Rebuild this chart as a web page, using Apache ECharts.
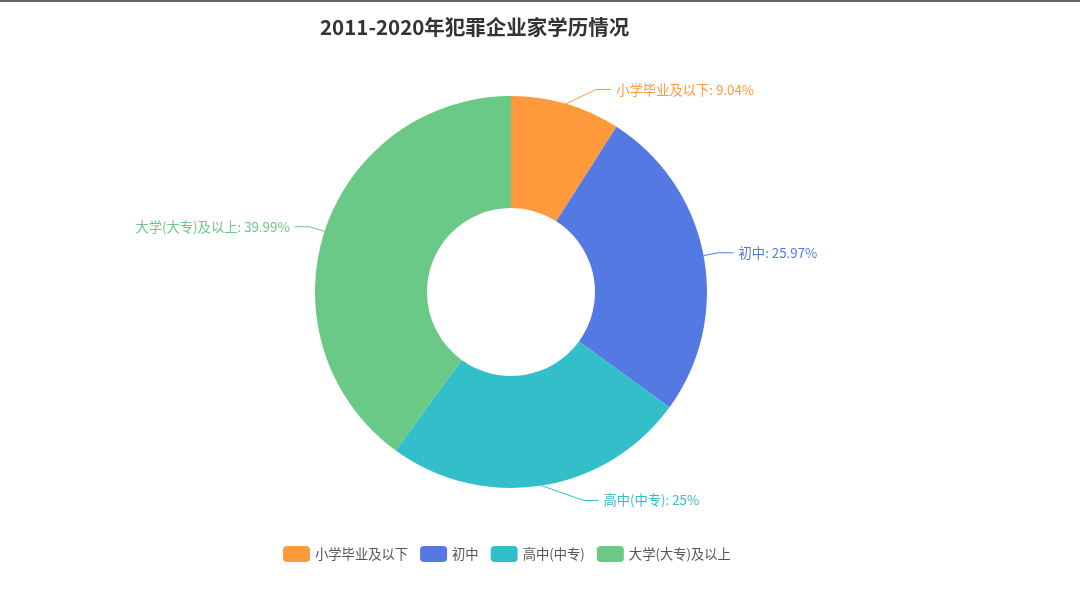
<!DOCTYPE html>
<html>
<head>
<meta charset="utf-8">
<script src="https://cdn.jsdelivr.net/npm/echarts@6/dist/echarts.min.js"></script>
<style>
  html, body { margin: 0; padding: 0; background: #fff; }
  #main { width: 1080px; height: 606px; border-top: 2px solid #666; box-sizing: border-box; }
</style>
</head>
<body>
<div id="main"></div>
<script>
// 学历类别
let categories = ['小学毕业及以下', '初中', '高中(中专)', '大学(大专)及以上'];
// 占比(%)
let values = [9.04, 25.97, 25, 39.99];
let colors = ['#FE9A3C', '#5479E3', '#32BFCA', '#6AC986'];

let cx = 511, cy = 290; // cy 相对于容器 (顶部边框 2px)
let outerR = 196, innerR = 84;
let len1 = 15, len2 = 15;

let chart = echarts.init(document.getElementById('main'));

// 标签沿圆弧重新排布 x (类似 echarts4 的做法)
function layoutLabel(params) {
    let rect = params.labelRect;
    let pts = params.labelLinePoints;
    let dir = params.align === 'right' ? -1 : 1;
    let y = rect.y + rect.height / 2;
    let R = outerR + len1 + len2;
    let dy = Math.abs(y - cy);
    let dx = Math.sqrt(R * R - dy * dy);
    let endX = cx + dir * dx;
    return {
        x: endX + dir * 5,
        y: y,
        align: dir > 0 ? 'left' : 'right',
        verticalAlign: 'middle',
        labelLinePoints: [pts[0], [endX - dir * len2, y], [endX, y]]
    };
}

let option = {
    title: {
        text: '2011-2020年犯罪企业家学历情况',
        left: 315,
        top: 10,
        textStyle: {
            fontSize: 20.5,
            fontWeight: 'bold',
            color: '#333',
            fontFamily: 'Noto Sans CJK SC'
        }
    },
    color: colors,
    legend: {
        data: categories,
        top: 539,
        left: 278,
        itemWidth: 27,
        itemHeight: 16,
        itemGap: 12,
        textStyle: { fontSize: 13.3, color: '#555', fontFamily: 'Noto Sans CJK SC' }
    },
    series: [{
        type: 'pie',
        center: [cx, cy],
        radius: [innerR, outerR],
        label: {
            formatter: '{b}: {d}%',
            fontSize: 13.3,
            color: 'inherit',
            fontFamily: 'Noto Sans CJK SC'
        },
        labelLine: { length: len1, length2: len2 },
        labelLayout: layoutLabel,
        data: categories.map(function (name, i) {
            return { name: name, value: values[i], label: { color: colors[i] } };
        })
    }]
};
chart.setOption(option);
</script>
</body>
</html>
